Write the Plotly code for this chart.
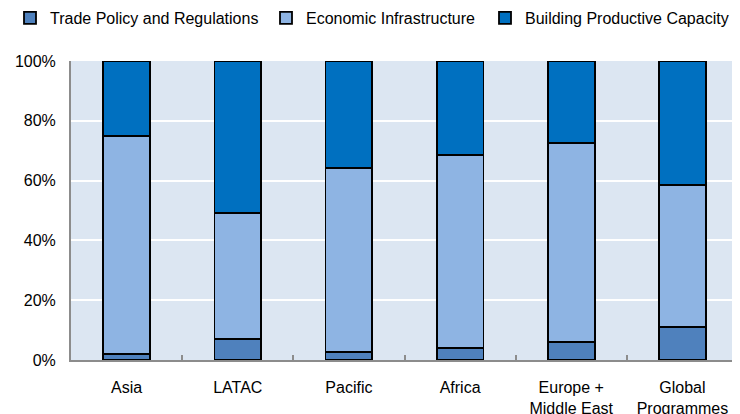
import plotly.graph_objects as go

categories = ["Asia", "LATAC", "Pacific", "Africa", "Europe +<br>Middle East", "Global<br>Programmes"]
trade_policy = [1.9, 7.1, 2.6, 3.9, 6.1, 11.0]
economic_infra = [73.0, 42.0, 61.7, 64.7, 66.5, 47.6]
building_capacity = [25.1, 50.9, 35.7, 31.4, 27.4, 41.4]
y_ticks = [0, 20, 40, 60, 80, 100]
y_labels = ["0%", "20%", "40%", "60%", "80%", "100%"]

series = [
    ("Trade Policy and Regulations", trade_policy, "#4F81BD", "legend", 2),
    ("Economic Infrastructure", economic_infra, "#8EB4E3", "legend2", 258),
    ("Building Productive Capacity", building_capacity, "#0070C0", "legend3", 477),
]

W, H = 732, 406
fig = go.Figure()
legend_layout = {}
for name, vals, col, leg, lx in series:
    fig.add_trace(go.Bar(
        x=categories, y=vals, name=name, legend=leg,
        marker=dict(color=col, line=dict(color="#000000", width=1.8)),
    ))
    legend_layout[leg] = dict(
        orientation="h", x=lx / W, xanchor="left", y=1 - 10 / H, yanchor="middle",
        xref="container", yref="container", itemwidth=30,
        font=dict(size=16), bgcolor="rgba(0,0,0,0)",
    )

fig.update_layout(
    barmode="stack",
    bargap=0.58,
    width=W, height=H,
    margin=dict(l=63, r=2, t=53, b=54, autoexpand=False),
    paper_bgcolor="white",
    plot_bgcolor="#DCE6F2",
    font=dict(family="Liberation Sans, Arial, sans-serif", size=16, color="#000000"),
    showlegend=True,
    **legend_layout,
)
fig.update_yaxes(
    range=[0, 100], tickvals=y_ticks, ticktext=y_labels,
    showgrid=True, gridcolor="white", gridwidth=2,
    showline=True, linecolor="#8C8C8C", linewidth=2,
    ticks="", ticklabelstandoff=10, zeroline=False,
)
fig.update_xaxes(
    showline=True, linecolor="#8C8C8C", linewidth=2,
    ticks="inside", tickson="boundaries", ticklen=5, tickcolor="#8C8C8C", tickwidth=1.5,
    showgrid=False, ticklabelstandoff=12,
)
fig.write_html("out.html")
